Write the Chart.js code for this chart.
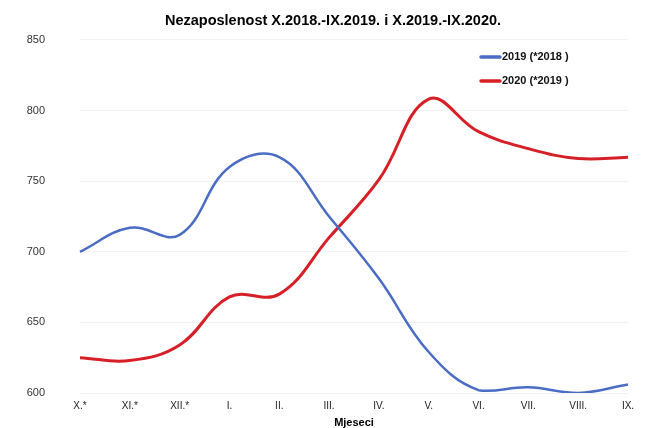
<!DOCTYPE html>
<html>
<head>
<meta charset="utf-8">
<script src="https://cdn.jsdelivr.net/npm/chart.js@4.4.1/dist/chart.umd.min.js"></script>
<style>
  html, body { margin: 0; padding: 0; background: #fff; }
  #wrap { width: 658px; height: 428px; }
</style>
</head>
<body>
<div id="wrap"><canvas id="chart" width="658" height="428"></canvas></div>
<script>
const months = ["X.*", "XI.*", "XII.*", "I.", "II.", "III.", "IV.", "V.", "VI.", "VII.", "VIII.", "IX."];
const series2019 = [700, 717, 712, 760, 767, 725, 681, 629, 602, 604, 600, 606];
const series2020 = [625, 623, 634, 668, 670, 710, 751, 808, 785, 773, 766, 767];
const yTicks = [600, 650, 700, 750, 800, 850];

const fontFam = "'Liberation Sans', Arial, sans-serif";

// legend drawn inside the plot, top right; title centred on the canvas
const insideLegend = {
  id: "insideLegend",
  afterLayout(chart) {
    if (chart.titleBlock) {
      chart.titleBlock.left = 4;
      chart.titleBlock.right = chart.width + 4;
      chart.titleBlock.width = chart.width;
    }
  },
  afterDraw(chart) {
    const ctx = chart.ctx;
    ctx.save();
    ctx.font = "bold 11px " + fontFam;
    ctx.textBaseline = "middle";
    chart.data.datasets.forEach((ds, i) => {
      const y = 57 + i * 24;
      ctx.strokeStyle = ds.borderColor;
      ctx.lineWidth = 3.5;
      ctx.lineCap = "round";
      ctx.beginPath();
      ctx.moveTo(481, y);
      ctx.lineTo(500, y);
      ctx.stroke();
      ctx.fillStyle = "#111";
      ctx.fillText(ds.label, 502, y);
    });
    ctx.restore();
  }
};

const ctx = document.getElementById("chart");
new Chart(ctx, {
  type: "line",
  data: {
    labels: months,
    datasets: [
      {
        label: "2019 (*2018 )",
        data: series2019,
        borderColor: "#4a6cc4",
        borderWidth: 2.5,
        pointRadius: 0,
        tension: 0.4,
        fill: false
      },
      {
        label: "2020 (*2019 )",
        data: series2020,
        borderColor: "#d61f26",
        borderWidth: 3,
        pointRadius: 0,
        tension: 0.4,
        fill: false
      }
    ]
  },
  options: {
    responsive: false,
    animation: false,
    layout: { padding: { left: 0, right: 30, top: 0, bottom: 0 } },
    plugins: {
      legend: { display: false },
      tooltip: { enabled: false },
      title: {
        display: true,
        text: "Nezaposlenost X.2018.-IX.2019. i X.2019.-IX.2020.",
        color: "#000",
        font: { family: fontFam, size: 14.5, weight: "bold" },
        padding: { top: 12, bottom: 10.5 }
      }
    },
    scales: {
      x: {
        offset: false,
        grid: { display: false, drawTicks: false },
        border: { display: false },
        ticks: {
          color: "#222",
          font: { family: fontFam, size: 10 },
          padding: 7,
          maxRotation: 0,
          autoSkip: false
        },
        title: {
          display: true,
          text: "Mjeseci",
          color: "#000",
          font: { family: fontFam, size: 11, weight: "bold", lineHeight: 1 },
          padding: { top: -2, bottom: 0 }
        }
      },
      y: {
        min: 600,
        max: 850,
        afterBuildTicks(axis) {
          axis.ticks = yTicks.map(v => ({ value: v }));
        },
        afterFit(axis) {
          axis.width = 80;
          // tick padding is only meant to push labels sideways
          axis.paddingTop = 0;
          axis.paddingBottom = 0;
        },
        grid: { color: "#f2f2f2", drawTicks: false },
        border: { display: false },
        ticks: {
          color: "#333",
          font: { family: fontFam, size: 11 },
          padding: 35
        }
      }
    }
  },
  plugins: [insideLegend]
});
</script>
</body>
</html>
